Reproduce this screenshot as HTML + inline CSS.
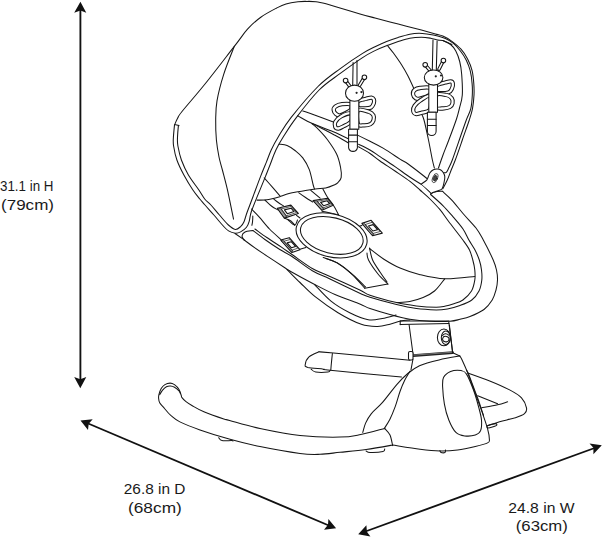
<!DOCTYPE html>
<html><head><meta charset="utf-8"><style>
html,body{margin:0;padding:0;background:#fff;width:603px;height:538px;overflow:hidden}
svg{display:block}
.t{font-family:"Liberation Sans",sans-serif;font-size:15.2px;fill:#1a1a1a}
.d{fill:none;stroke:#161616;stroke-width:1.05;stroke-linecap:round;stroke-linejoin:round}
</style></head><body>
<svg width="603" height="538" viewBox="0 0 603 538">
<!-- dimension arrows -->
<g stroke="#111" stroke-width="1.85" fill="none">
<line x1="80.4" y1="9" x2="80.4" y2="381"/>
<line x1="87" y1="423" x2="330" y2="526"/>
<line x1="364" y1="532" x2="596" y2="447.5"/>
</g>
<g fill="#111">
<path d="M80.4 1.8 L86.3 12.7 L80.4 10.5 L74.2 12.7Z"/>
<path d="M80.3 388.3 L86.3 377 L80.3 379.3 L74.2 377Z"/>
<path d="M80.5 420.4 L92.7 419.2 L88.7 423.7 L88 429.9Z"/>
<path d="M336.1 528.2 L328.4 519 L328 524.8 L324 529.7Z"/>
<path d="M358.2 534.3 L366.4 525.2 L366.9 531.7 L370.4 536.4Z"/>
<path d="M601.8 445.3 L589.5 443.4 L593.4 447.8 L593.4 454.3Z"/>
</g>
<!-- labels -->
<text class="t" x="0" y="190.7" textLength="53.5" lengthAdjust="spacingAndGlyphs">31.1 in H</text>
<text class="t" x="1" y="209.8" textLength="53" lengthAdjust="spacingAndGlyphs">(79cm)</text>
<text class="t" x="123.8" y="493.9" textLength="61.6" lengthAdjust="spacingAndGlyphs">26.8 in D</text>
<text class="t" x="128" y="512.8" textLength="53.8" lengthAdjust="spacingAndGlyphs">(68cm)</text>
<text class="t" x="508.3" y="512.6" textLength="66.3" lengthAdjust="spacingAndGlyphs">24.8 in W</text>
<text class="t" x="515.8" y="531.1" textLength="52" lengthAdjust="spacingAndGlyphs">(63cm)</text>
<!-- drawing -->
<g class="d" id="drawing">
<path d="M175.0 123.9 C175.4 123.0 176.4 120.4 177.6 118.3 C178.8 116.2 177.4 117.2 182.0 111.5 C186.6 105.8 196.3 94.8 205.0 84.0 C213.7 73.2 227.2 55.5 234.3 46.4 C241.4 37.3 243.1 34.1 247.5 29.2 C251.9 24.3 255.9 20.7 260.8 17.2 C265.7 13.7 272.5 10.2 276.7 8.0 C280.9 5.8 282.4 5.0 286.0 3.9 C289.6 2.8 294.5 2.1 298.0 1.7 C301.5 1.3 304.0 1.4 307.0 1.4 C310.0 1.4 312.8 1.3 316.0 1.7 C319.2 2.1 322.0 2.8 326.0 3.8 C330.0 4.8 334.3 6.3 340.0 8.0 C345.7 9.7 354.2 12.2 360.0 13.9 C365.8 15.6 368.6 16.3 375.0 18.0 C381.4 19.7 390.5 22.0 398.2 24.0 C405.9 26.0 415.2 28.4 421.4 30.1 C427.6 31.8 431.8 33.0 435.4 34.0 C439.0 35.0 440.1 34.9 442.8 36.1 C445.6 37.3 448.9 39.1 451.9 41.3 C454.9 43.5 458.4 46.2 461.0 49.1 C463.6 52.0 465.8 55.3 467.6 58.9 C469.5 62.5 471.1 66.5 472.1 70.6 C473.1 74.7 473.5 79.5 473.8 83.6 C474.1 87.7 474.2 90.8 474.0 95.0 C473.8 99.2 473.3 104.4 472.5 108.6 C471.7 112.8 471.0 114.8 469.3 120.0 C467.6 125.2 464.6 133.3 462.3 140.0 C460.0 146.7 457.2 155.0 455.3 160.0 C453.4 165.0 452.5 166.7 451.2 170.0 C449.9 173.3 448.7 176.9 447.3 180.0 C445.9 183.1 443.6 187.3 442.8 188.8"/>
<path d="M234.3 46.4 C232.5 51.0 226.6 65.2 223.7 74.3 C220.8 83.4 218.3 93.3 217.0 100.8 C215.7 108.3 215.8 112.9 215.7 119.4 C215.6 125.9 215.8 133.7 216.4 140.0 C217.0 146.3 218.0 152.0 219.0 157.0 C220.0 162.0 220.9 164.1 222.4 170.0 C223.9 175.9 226.2 184.1 228.0 192.3 C229.8 200.5 232.6 214.6 233.5 219.1"/>
<path d="M174.5 125.0 C174.3 127.0 173.6 133.8 173.4 137.3 C173.2 140.8 173.0 142.2 173.6 146.0 C174.2 149.8 175.2 155.2 176.9 160.0 C178.6 164.8 181.2 170.0 183.9 175.0 C186.6 180.0 190.2 186.0 192.9 190.0 C195.6 194.0 197.8 196.5 199.8 199.0 C201.8 201.5 202.7 202.3 205.0 205.0 C207.3 207.7 211.0 211.7 213.9 215.0 C216.8 218.3 220.0 222.3 222.4 225.0 C224.8 227.7 226.4 229.5 228.6 230.9 C230.8 232.3 233.3 233.0 235.3 233.2 C237.3 233.4 238.7 232.9 240.6 231.9 C242.5 230.9 245.1 229.1 246.5 227.3 C247.9 225.5 248.4 223.9 249.2 221.3 C250.0 218.8 249.8 216.2 251.2 212.0 C252.6 207.8 255.1 201.8 257.5 195.9 C259.9 190.0 263.3 181.8 265.4 176.6 C267.5 171.4 268.4 168.9 270.2 164.5 C271.9 160.1 273.7 154.7 275.9 150.0 C278.1 145.3 280.1 141.9 283.5 136.5 C286.9 131.1 290.4 125.3 296.3 117.6 C302.2 109.8 311.8 97.4 319.1 90.0 C326.4 82.6 333.1 78.8 340.3 73.4 C347.6 68.0 356.8 61.4 362.6 57.6 C368.4 53.8 371.0 52.6 375.0 50.6 C379.0 48.6 382.7 47.3 386.6 45.8 C390.5 44.3 394.3 42.9 398.2 41.6 C402.1 40.3 405.9 38.9 409.8 38.2 C413.7 37.5 417.9 37.3 421.4 37.3 C424.9 37.3 428.0 37.8 430.7 38.2 C433.4 38.7 435.7 39.6 437.7 40.0 C439.7 40.4 440.6 39.9 442.8 40.6 C445.0 41.4 448.4 42.8 450.6 44.5 C452.8 46.2 454.3 48.2 455.8 51.0 C457.3 53.8 458.7 57.6 459.7 61.5 C460.7 65.4 461.3 68.9 461.7 74.5 C462.1 80.1 462.7 89.4 462.3 95.0 C461.9 100.6 460.5 104.0 459.5 108.0 C458.5 112.0 458.3 113.7 456.5 119.0 C454.7 124.3 451.1 134.0 448.8 140.0 C446.6 146.0 444.7 150.3 443.0 155.0 C441.3 159.7 439.2 165.8 438.5 168.0"/>
<path d="M178.4 125.6 C178.2 127.5 177.6 133.9 177.5 137.3 C177.4 140.7 177.2 142.2 177.9 146.0 C178.6 149.8 179.7 155.2 181.4 160.0 C183.2 164.8 185.5 170.0 188.4 175.0 C191.3 180.0 196.2 186.0 198.9 190.0 C201.6 194.0 202.7 196.5 204.7 199.0 C206.7 201.5 208.4 202.3 210.9 205.0 C213.4 207.7 216.5 211.7 219.4 215.0 C222.3 218.3 225.8 222.6 228.4 225.0 C231.1 227.4 233.3 229.1 235.3 229.4 C237.3 229.7 239.2 227.8 240.6 226.6 C242.0 225.4 242.8 224.4 243.9 222.0 C245.0 219.6 245.6 216.3 247.2 212.0 C248.8 207.7 251.1 201.8 253.3 195.9 C255.5 190.0 258.3 182.2 260.5 176.6 C262.7 171.0 264.6 166.5 266.4 162.1 C268.2 157.7 269.2 154.3 271.2 150.0 C273.2 145.7 275.2 141.9 278.5 136.5 C281.8 131.1 284.4 125.9 291.0 117.6 C297.6 109.3 309.8 94.7 318.0 86.5 C326.2 78.3 332.9 74.1 340.3 68.6 C347.7 63.1 356.8 57.0 362.6 53.4 C368.4 49.8 371.0 48.8 375.0 46.8 C379.0 44.8 382.7 43.1 386.6 41.5 C390.5 39.9 394.3 38.6 398.2 37.4 C402.1 36.2 406.3 34.9 409.8 34.2 C413.3 33.5 416.0 33.3 419.1 33.3 C422.2 33.3 425.3 33.8 428.4 34.2 C431.5 34.6 434.9 35.2 437.7 35.9 C440.5 36.6 442.8 37.3 445.4 38.5 C448.0 39.7 450.7 41.1 453.2 43.2 C455.7 45.3 458.2 48.2 460.4 51.0 C462.6 53.8 464.7 56.9 466.3 60.2 C467.9 63.5 469.2 66.7 470.2 70.6 C471.2 74.5 471.8 79.5 472.1 83.6 C472.5 87.7 472.5 90.8 472.3 95.0 C472.1 99.2 471.8 104.4 470.8 108.6 C469.8 112.8 468.2 114.8 466.3 120.0 C464.4 125.2 461.6 133.3 459.3 140.0 C457.0 146.7 454.1 155.2 452.3 160.0 C450.5 164.8 449.5 166.4 448.5 168.5 C447.5 170.6 447.2 171.6 446.3 172.3 C445.4 173.0 443.9 172.6 443.4 172.7"/>
<path d="M174.5 124.5 L179.0 125.6"/>
<path d="M442.8 40.6 L451.9 44.5"/>
<path d="M387.2 45.2 C388.3 46.6 391.2 50.0 393.6 53.3 C396.0 56.6 399.3 61.2 401.7 65.0 C404.1 68.8 406.0 72.1 408.0 76.0 C410.0 79.9 412.8 86.2 413.7 88.2"/>
<path d="M421.5 114.0 C421.9 115.0 422.8 115.7 424.0 120.0 C425.2 124.3 427.1 133.3 428.5 140.0 C429.9 146.7 431.4 155.3 432.4 160.0 C433.4 164.7 434.1 166.7 434.4 168.0"/>
<path d="M353.1 62.5 L352.7 86.0"/>
<path d="M357.0 60.5 L357.0 85.0"/>
<path d="M433.0 40.0 L432.3 70.0"/>
<path d="M437.1 41.1 L436.3 70.0"/>
<path d="M302.8 111.0 C304.8 111.7 309.3 113.1 314.5 115.0 C319.7 116.9 330.8 121.0 334.0 122.2"/>
<path d="M357.5 135.1 C359.6 136.1 365.7 139.1 370.0 141.3 C374.3 143.5 378.5 145.4 383.5 148.4 C388.5 151.4 395.8 156.4 400.0 159.1 C404.2 161.8 404.0 161.1 408.5 164.3 C413.0 167.5 423.9 176.1 427.0 178.5"/>
<path d="M297.6 115.7 C300.1 117.0 306.4 120.9 312.4 123.6 C318.3 126.3 327.0 129.0 333.3 131.7 C339.6 134.3 347.2 138.2 350.0 139.5"/>
<path d="M312.4 123.6 C314.0 124.4 318.2 126.5 322.0 128.5 C325.8 130.4 330.3 132.8 335.0 135.3 C339.7 137.9 347.5 142.4 350.0 143.8"/>
<path d="M358.6 144.3 C360.5 145.2 366.4 147.9 370.0 150.0 C373.6 152.1 375.8 153.8 380.0 156.6 C384.2 159.4 390.0 163.1 395.0 166.6 C400.0 170.1 405.6 174.3 410.0 177.3 C414.4 180.3 419.8 183.3 421.7 184.5"/>
<path d="M358.6 146.8 C360.5 147.9 366.4 151.1 370.0 153.5 C373.6 155.9 375.8 158.1 380.0 161.0 C384.2 163.9 390.0 167.6 395.0 171.0 C400.0 174.4 405.8 178.2 410.0 181.4 C414.2 184.6 416.7 187.1 420.0 190.0 C423.3 192.9 426.7 195.7 430.0 199.0 C433.3 202.3 436.9 206.0 440.0 209.7 C443.1 213.4 444.7 216.2 448.5 221.3 C452.3 226.4 459.4 235.2 462.9 240.0 C466.4 244.8 467.9 246.7 469.5 250.0 C471.1 253.3 471.9 256.7 472.8 260.0 C473.7 263.3 474.5 266.7 474.8 270.0 C475.1 273.3 475.4 276.5 474.8 280.0 C474.2 283.5 473.5 287.7 471.5 291.0 C469.5 294.3 466.0 297.8 462.9 300.0 C459.8 302.2 455.9 303.0 453.0 304.0 C450.1 305.0 448.4 305.5 445.6 306.0 C442.8 306.5 441.2 307.2 436.3 307.2 C431.4 307.2 423.0 306.7 416.4 305.9 C409.8 305.1 404.2 304.4 396.5 302.6 C388.8 300.8 376.1 297.4 370.0 295.3 C363.9 293.2 366.5 293.0 359.8 289.9 C353.1 286.8 337.9 280.1 330.0 276.5 C322.1 272.9 318.6 272.2 312.3 268.5 C306.0 264.8 297.1 258.0 292.0 254.5 C286.9 251.0 286.0 250.2 281.8 247.4 C277.6 244.6 271.3 240.6 266.8 237.5 C262.3 234.4 256.9 230.4 254.9 229.0"/>
<path d="M430.6 194.5 C432.7 196.3 439.0 201.7 442.9 205.6 C446.8 209.5 450.6 214.0 454.0 217.9 C457.4 221.8 460.5 225.3 463.0 229.0 C465.5 232.7 466.9 236.5 468.9 240.0 C470.9 243.5 473.3 246.7 475.0 250.0 C476.7 253.3 478.2 256.7 479.3 260.0 C480.4 263.3 481.1 266.7 481.5 270.0 C481.9 273.3 482.2 276.5 481.8 280.0 C481.4 283.5 480.7 287.7 479.0 291.0 C477.3 294.3 475.0 297.6 471.8 300.0 C468.6 302.4 464.1 304.0 460.0 305.5 C455.9 307.0 451.3 308.2 447.4 308.9 C443.4 309.6 441.5 309.9 436.3 309.9 C431.1 309.8 423.0 309.5 416.4 308.6 C409.8 307.7 404.2 306.5 396.5 304.6 C388.8 302.7 376.1 299.2 370.0 297.3 C363.9 295.4 366.5 296.2 359.8 293.2 C353.1 290.1 337.9 282.8 330.0 279.0 C322.1 275.2 318.6 274.4 312.3 270.7 C306.0 266.9 297.4 260.0 292.0 256.5 C286.6 253.0 284.3 252.3 279.8 249.5 C275.3 246.7 269.4 242.7 264.9 239.5 C260.4 236.3 254.9 232.0 252.9 230.5"/>
<path d="M421.7 184.5 C422.4 185.1 424.4 186.8 426.0 188.3 C427.6 189.8 430.3 192.7 431.2 193.6"/>
<path d="M430.6 194.0 C431.4 193.6 433.2 192.2 435.1 191.7 C437.1 191.2 441.1 191.3 442.3 191.2"/>
<path d="M442.3 191.2 C443.9 192.7 448.4 196.4 451.8 200.1 C455.2 203.8 459.0 208.8 463.0 213.5 C467.0 218.2 472.6 223.6 476.0 228.0 C479.4 232.4 480.4 234.7 483.3 240.0 C486.2 245.3 491.0 255.0 493.2 260.0 C495.4 265.0 495.8 266.7 496.5 270.0 C497.2 273.3 497.6 276.7 497.5 280.0 C497.4 283.3 496.9 286.7 496.0 290.0 C495.1 293.3 494.2 296.8 492.2 300.0 C490.2 303.2 487.7 306.8 484.0 309.5 C480.3 312.2 474.0 314.9 470.0 316.5 C466.0 318.1 463.3 318.5 460.0 319.3 C456.7 320.1 455.1 320.9 450.0 321.2 C444.9 321.5 436.4 321.5 429.7 321.2 C423.0 320.9 416.4 320.3 409.8 319.2 C403.2 318.1 396.5 316.3 389.9 314.5 C383.3 312.7 375.0 310.2 370.0 308.5 C365.0 306.8 365.6 306.3 359.8 304.0 C354.0 301.7 342.9 298.0 335.0 294.5 C327.1 291.0 319.7 287.0 312.3 283.2 C304.9 279.4 295.3 274.1 290.7 271.5 C286.1 268.9 288.3 270.1 284.8 267.8 C281.3 265.5 274.8 261.2 269.8 257.9 C264.8 254.6 259.2 250.9 254.9 247.9 C250.6 244.9 245.8 241.2 244.0 239.9"/>
<path d="M396.0 315.0 C393.7 315.6 386.8 317.7 382.2 318.5 C377.6 319.3 373.6 320.7 368.2 319.7 C362.8 318.7 355.9 315.8 349.7 312.7 C343.5 309.6 336.8 305.8 331.0 301.1 C325.2 296.5 317.5 287.5 314.8 284.8"/>
<path d="M409.8 319.9 C408.3 320.1 404.0 320.3 400.7 321.0 C397.4 321.7 393.9 323.3 390.0 324.2 C386.1 325.1 382.3 326.4 377.5 326.4 C372.7 326.4 367.9 326.6 361.3 324.3 C354.7 322.0 345.8 317.4 338.0 312.7 C330.2 308.0 321.1 301.4 314.8 296.4 C308.5 291.4 304.6 286.9 300.0 282.5 C295.4 278.1 289.2 271.8 287.0 269.7"/>
<path d="M235.0 233.5 L245.0 240.4"/>
<path d="M252.9 230.5 C251.6 230.8 246.8 231.1 245.0 232.0 C243.2 232.9 242.2 234.7 242.0 236.0 C241.8 237.3 243.7 239.2 244.0 239.9"/>
<path d="M252.8 216.0 C252.8 217.0 252.7 220.4 252.5 222.0 C252.3 223.6 252.0 224.8 251.9 225.3"/>
<path d="M369.5 248.5 C371.9 250.3 378.8 255.9 383.9 259.2 C389.0 262.4 394.1 265.5 400.0 268.0 C405.9 270.5 411.9 272.6 419.3 274.4 C426.8 276.2 435.4 278.4 444.7 278.8 C453.9 279.2 469.8 276.9 474.8 276.5"/>
<path d="M444.7 278.8 C443.0 280.8 438.1 287.9 434.5 291.0 C430.9 294.1 427.2 295.8 423.1 297.5 C419.0 299.2 414.2 300.6 409.8 301.5 C405.4 302.4 398.7 302.4 396.5 302.6"/>
<path d="M311.9 123.5 C313.0 124.5 315.8 126.6 318.4 129.3 C321.0 132.0 324.5 135.6 327.5 139.7 C330.5 143.8 334.4 149.4 336.6 154.0 C338.8 158.6 339.7 163.1 340.5 167.0 C341.3 170.9 341.6 174.8 341.2 177.4 C340.8 180.0 339.1 181.3 337.9 182.6 C336.7 183.9 336.0 184.1 334.0 185.0 C332.0 185.9 328.8 187.3 325.7 188.0 C322.6 188.7 319.0 188.4 315.4 188.9 C311.8 189.4 307.7 190.2 304.3 190.8 C300.9 191.4 297.6 191.8 295.0 192.2 C292.4 192.6 291.6 192.8 289.0 193.5 C286.4 194.2 282.3 195.8 279.7 196.7 C277.1 197.5 275.7 198.0 273.2 198.6 C270.7 199.2 267.6 199.8 264.9 200.0 C262.2 200.2 258.3 200.1 257.0 200.1"/>
<path d="M279.3 144.2 C280.6 144.4 284.5 144.4 287.1 145.5 C289.7 146.6 292.4 148.4 295.0 150.5 C297.6 152.6 300.4 154.7 302.8 157.9 C305.2 161.1 307.6 165.1 309.3 169.6 C311.0 174.1 312.3 181.8 313.2 185.0 C314.1 188.2 314.3 188.3 314.5 189.0"/>
<path d="M264.2 177.8 C265.6 179.4 270.0 184.4 272.6 187.4 C275.2 190.4 278.7 194.5 279.9 195.9"/>
<path d="M264.9 200.0 C266.0 201.0 269.3 204.4 271.4 206.0 C273.5 207.6 276.4 209.1 277.4 209.7"/>
<path d="M273.2 198.6 C274.0 199.2 276.2 201.1 277.9 202.3 C279.6 203.5 282.6 205.4 283.5 206.0"/>
<path d="M284.4 218.1 C285.5 218.6 289.2 219.7 290.9 220.9 C292.6 222.1 294.1 224.4 294.7 225.1"/>
<path d="M296.5 215.3 L300.0 218.0"/>
<path d="M298.7 192.7 C299.8 193.5 302.9 195.8 305.2 197.3 C307.5 198.9 311.4 201.2 312.7 202.0"/>
<path d="M310.8 190.3 L320.1 198.2"/>
<path d="M322.9 188.9 C323.7 190.3 325.8 194.7 327.5 197.3 C329.2 199.9 331.2 201.8 333.1 204.7 C335.0 207.6 337.8 213.3 338.7 215.0"/>
<path d="M322.0 211.2 C323.4 211.5 327.5 212.5 330.3 213.1 C333.1 213.7 337.3 214.7 338.7 215.0"/>
<path d="M288.2 220.0 C289.3 220.8 293.1 225.1 294.7 225.1 C296.2 225.1 297.0 220.8 297.5 220.0"/>
<path d="M251.5 209.0 C252.8 210.4 256.3 213.9 259.3 217.2 C262.3 220.5 265.9 225.3 269.5 229.0 C273.1 232.7 279.1 237.8 281.0 239.5"/>
<path d="M299.9 249.2 L305.9 247.4"/>
<path d="M358.3 226.5 L361.9 225.4"/>
<path d="M323.2 257.6 C325.5 258.5 332.5 260.3 337.1 262.9 C341.8 265.5 346.5 269.1 351.1 273.3 C355.7 277.5 362.4 285.7 364.7 288.2"/>
<path d="M326.0 258.5 C328.2 259.4 334.5 261.2 339.0 264.0 C343.5 266.8 348.6 271.2 353.0 275.0 C357.4 278.8 363.4 285.0 365.5 287.0"/>
<path d="M364.7 288.2 L387.9 284.1"/>
<path d="M367.0 253.0 C367.2 254.2 366.7 256.5 368.5 260.0 C370.3 263.5 374.8 270.0 378.0 274.0 C381.2 278.0 386.2 282.4 387.9 284.1"/>
<path d="M369.5 248.0 C370.0 250.0 370.9 256.0 372.6 260.0 C374.4 264.0 377.6 268.3 380.0 272.0 C382.4 275.7 385.8 280.3 387.0 282.0"/>
<path d="M409.1 324.8 L413.0 354.0"/>
<path d="M448.8 322.2 L452.7 352.7"/>
<path d="M400.2 321.0 L449.0 321.0"/>
<path d="M400.2 324.6 L449.0 323.6"/>
<path d="M400.2 321.0 L400.2 324.6"/>
<path d="M413.0 359.0 L411.0 369.6"/>
<path d="M452.7 352.7 L459.8 356.0"/>
<path d="M362.8 432.4 C363.3 430.8 364.2 426.2 365.6 423.1 C367.0 420.0 368.4 417.2 371.2 413.8 C374.0 410.4 378.0 407.6 382.3 402.7 C386.6 397.8 392.9 389.0 397.2 384.1 C401.4 379.2 404.1 376.6 407.8 373.5 C411.5 370.4 414.3 368.0 419.5 365.7 C424.7 363.4 432.3 361.5 439.0 359.9 C445.7 358.3 456.3 356.6 459.8 356.0"/>
<path d="M384.2 428.7 C385.1 427.1 387.9 423.1 389.8 419.4 C391.7 415.7 393.6 411.0 395.3 406.4 C397.0 401.8 398.4 395.9 400.0 391.5 C401.6 387.1 403.0 383.7 404.7 380.3 C406.4 376.9 409.3 372.6 410.2 371.0"/>
<path d="M459.8 356.0 C460.2 356.7 460.7 357.0 462.1 360.0 C463.5 363.0 466.0 368.5 468.2 374.1 C470.4 379.7 472.9 387.0 475.3 393.5 C477.7 400.0 480.3 407.0 482.4 412.9 C484.4 418.8 486.4 424.4 487.6 428.8 C488.8 433.2 489.4 437.0 489.4 439.4 C489.4 441.8 490.0 441.7 487.6 442.9 C485.2 444.1 480.3 445.3 475.3 446.5 C470.3 447.7 463.5 449.3 457.6 450.0 C451.7 450.7 446.3 451.0 440.0 450.9 C433.7 450.8 427.9 450.2 420.0 449.2 C412.1 448.2 397.2 445.7 392.6 445.0"/>
<path d="M466.5 370.0 C466.9 370.8 467.9 372.6 468.9 375.0 C469.9 377.4 471.1 380.7 472.6 384.7 C474.1 388.7 476.4 394.7 477.9 398.8 C479.4 402.9 480.6 406.6 481.5 409.4 C482.4 412.2 483.2 414.5 483.5 415.5"/>
<path d="M443.5 377.6 C444.8 375.1 447.7 372.7 450.6 371.5 C453.6 370.3 458.6 370.2 461.2 370.6 C463.8 371.0 464.4 370.9 466.5 374.1 C468.6 377.3 471.4 384.4 473.5 390.0 C475.6 395.6 477.5 402.6 478.8 407.6 C480.1 412.6 481.2 416.2 481.5 420.0 C481.8 423.8 481.6 428.1 480.6 430.6 C479.6 433.1 478.0 434.1 475.3 435.0 C472.6 435.9 467.9 436.3 464.7 435.9 C461.5 435.5 458.5 435.0 455.9 432.4 C453.2 429.8 450.7 424.7 448.8 420.0 C446.9 415.3 445.4 409.7 444.4 404.1 C443.4 398.5 442.8 390.9 442.6 386.5 C442.5 382.1 442.2 380.1 443.5 377.6Z"/>
<path d="M319.0 351.8 C321.4 352.0 318.3 351.7 333.5 353.1 C348.7 354.5 397.2 359.0 410.0 360.2"/>
<path d="M319.0 351.8 C317.3 352.6 311.3 354.8 309.0 356.9 C306.7 359.0 305.4 362.9 305.2 364.7 C305.0 366.4 304.8 366.6 307.8 367.4 C310.9 368.1 319.8 368.7 323.5 369.2 C327.2 369.7 317.2 369.0 330.2 370.3 C343.2 371.6 389.6 375.9 401.5 377.0"/>
<path d="M332.4 353.5 C332.2 354.9 331.8 359.2 331.5 362.0 C331.2 364.8 330.9 368.7 330.8 370.0"/>
<path d="M311.2 369.2 C311.9 369.7 312.9 371.5 315.7 372.0 C318.5 372.5 325.5 372.3 327.9 372.0 C330.3 371.7 329.8 370.6 330.2 370.3"/>
<path d="M467.8 372.9 C471.4 374.2 482.7 378.1 489.7 380.9 C496.7 383.7 504.3 387.1 509.6 389.9 C514.9 392.7 518.7 394.8 521.5 397.8 C524.3 400.8 526.0 405.2 526.5 407.8 C527.0 410.4 526.3 412.1 524.5 413.7 C522.7 415.3 519.6 416.4 515.5 417.7 C511.4 419.0 504.2 420.4 499.6 421.7 C495.0 423.0 489.7 425.0 487.7 425.7"/>
<path d="M477.7 395.8 L497.6 403.8"/>
<path d="M481.7 407.8 C484.4 407.3 493.3 405.8 497.6 404.8 C501.9 403.8 505.9 402.3 507.6 401.8"/>
<path d="M487.6 425.6 C488.8 424.9 494.2 423.6 495.6 423.6 C497.0 423.6 497.4 424.9 496.2 425.6 C495.0 426.3 489.7 427.9 488.3 427.9 C486.9 427.9 486.4 426.3 487.6 425.6Z"/>
<path d="M384.7 428.4 C380.7 429.4 368.2 433.1 360.8 434.5 C353.4 435.9 350.1 436.9 340.0 437.1 C329.9 437.3 313.3 436.9 300.0 435.5 C286.7 434.1 271.7 431.0 260.0 428.5 C248.3 426.0 235.6 422.0 229.6 420.4 C223.6 418.8 228.1 420.4 223.8 419.0 C219.5 417.6 209.2 414.1 203.9 411.8 C198.6 409.6 194.9 407.2 191.9 405.5 C188.9 403.8 187.7 402.9 186.0 401.6 C184.3 400.3 182.8 398.7 182.0 397.6 C181.2 396.6 181.7 396.7 181.2 395.3 C180.7 393.9 180.1 391.2 179.0 389.4 C177.9 387.6 176.0 385.7 174.5 384.6 C173.0 383.6 171.7 383.1 170.1 383.1 C168.5 383.1 166.4 383.7 164.9 384.6 C163.4 385.5 162.2 386.9 161.2 388.6 C160.2 390.3 159.3 393.0 158.9 394.6 C158.5 396.2 158.5 396.9 158.6 398.3 C158.7 399.7 158.9 401.3 159.7 402.8 C160.5 404.3 161.6 405.1 163.4 407.2 C165.2 409.3 168.1 412.9 170.8 415.4 C173.6 417.8 175.0 419.5 179.9 421.9 C184.8 424.3 191.7 427.0 200.0 429.9 C208.3 432.8 220.0 436.5 230.0 439.3 C240.0 442.1 248.3 444.2 260.0 446.6 C271.7 449.0 290.0 452.2 300.0 453.5 C310.0 454.8 313.3 454.5 320.0 454.3 C326.7 454.1 332.3 453.1 340.0 452.3 C347.7 451.5 357.3 450.7 366.1 449.5 C374.9 448.3 388.2 445.8 392.6 445.0"/>
<path d="M384.7 428.4 C385.6 429.5 388.7 432.1 390.0 435.0 C391.3 437.9 392.2 443.8 392.7 445.6"/>
<path d="M159.7 394.6 C160.2 393.9 161.5 391.4 162.6 390.1 C163.7 388.8 165.1 387.5 166.4 386.8 C167.7 386.1 169.1 385.9 170.4 386.0 C171.8 386.1 173.1 386.4 174.5 387.2 C175.9 388.0 178.0 389.8 179.0 390.9 C180.0 392.0 180.2 393.3 180.5 393.8"/>
<path d="M218.7 437.7 C219.2 438.2 219.8 440.1 222.0 440.6 C224.2 441.1 229.8 440.5 231.6 440.6 C233.4 440.7 232.8 440.9 233.0 441.0"/>
<path d="M366.1 450.9 C366.8 451.2 367.2 452.4 370.0 452.5 C372.8 452.6 380.6 452.1 383.0 451.5 C385.4 450.9 384.4 449.4 384.7 449.0"/>
<path d="M439.9 450.5 C440.1 450.8 440.1 452.2 441.0 452.5 C441.9 452.8 444.2 452.9 445.0 452.5 C445.8 452.1 445.4 450.4 445.5 450.0"/>
<path d="M351.0 104.5 C349.5 103.6 344.6 103.9 342.0 104.2 C339.4 104.5 336.9 105.5 335.5 106.5 C334.1 107.5 333.6 108.8 333.7 110.0 C333.8 111.2 334.9 113.1 336.0 114.0 C337.1 114.9 338.3 115.7 340.0 115.5 C341.7 115.3 344.2 114.0 346.0 113.0 C347.8 112.0 350.2 110.9 351.0 109.5 C351.8 108.1 352.5 105.4 351.0 104.5Z" stroke-width="4.3" fill="#fff"/><path d="M351.0 104.5 C349.5 103.6 344.6 103.9 342.0 104.2 C339.4 104.5 336.9 105.5 335.5 106.5 C334.1 107.5 333.6 108.8 333.7 110.0 C333.8 111.2 334.9 113.1 336.0 114.0 C337.1 114.9 338.3 115.7 340.0 115.5 C341.7 115.3 344.2 114.0 346.0 113.0 C347.8 112.0 350.2 110.9 351.0 109.5 C351.8 108.1 352.5 105.4 351.0 104.5Z" stroke-width="2.3" stroke="#fff"/><path d="M351.0 113.5 C349.3 112.7 343.6 115.0 341.0 116.4 C338.4 117.8 336.2 120.2 335.3 122.0 C334.4 123.8 334.8 125.9 335.3 127.0 C335.8 128.1 337.2 128.6 338.5 128.5 C339.8 128.4 340.9 127.7 343.0 126.5 C345.1 125.3 349.7 123.7 351.0 121.5 C352.3 119.3 352.7 114.3 351.0 113.5Z" stroke-width="4.3" fill="#fff"/><path d="M351.0 113.5 C349.3 112.7 343.6 115.0 341.0 116.4 C338.4 117.8 336.2 120.2 335.3 122.0 C334.4 123.8 334.8 125.9 335.3 127.0 C335.8 128.1 337.2 128.6 338.5 128.5 C339.8 128.4 340.9 127.7 343.0 126.5 C345.1 125.3 349.7 123.7 351.0 121.5 C352.3 119.3 352.7 114.3 351.0 113.5Z" stroke-width="2.3" stroke="#fff"/><path d="M358.0 101.2 C359.3 99.8 363.8 99.4 366.0 98.8 C368.2 98.2 370.2 97.5 371.5 97.6 C372.8 97.7 373.4 98.5 373.8 99.4 C374.2 100.4 374.3 102.0 373.8 103.3 C373.3 104.6 372.5 106.7 371.0 107.5 C369.5 108.3 367.2 108.3 365.0 108.3 C362.8 108.3 359.2 108.7 358.0 107.5 C356.8 106.3 356.7 102.7 358.0 101.2Z" stroke-width="4.3" fill="#fff"/><path d="M358.0 101.2 C359.3 99.8 363.8 99.4 366.0 98.8 C368.2 98.2 370.2 97.5 371.5 97.6 C372.8 97.7 373.4 98.5 373.8 99.4 C374.2 100.4 374.3 102.0 373.8 103.3 C373.3 104.6 372.5 106.7 371.0 107.5 C369.5 108.3 367.2 108.3 365.0 108.3 C362.8 108.3 359.2 108.7 358.0 107.5 C356.8 106.3 356.7 102.7 358.0 101.2Z" stroke-width="2.3" stroke="#fff"/><path d="M358.0 110.4 C359.8 108.3 366.4 111.0 369.0 111.8 C371.6 112.6 372.6 113.9 373.4 115.3 C374.1 116.7 374.0 118.8 373.5 120.3 C373.0 121.8 371.9 123.4 370.4 124.2 C368.9 125.0 366.4 125.3 364.3 125.3 C362.2 125.3 359.1 126.7 358.0 124.2 C356.9 121.7 356.2 112.5 358.0 110.4Z" stroke-width="4.3" fill="#fff"/><path d="M358.0 110.4 C359.8 108.3 366.4 111.0 369.0 111.8 C371.6 112.6 372.6 113.9 373.4 115.3 C374.1 116.7 374.0 118.8 373.5 120.3 C373.0 121.8 371.9 123.4 370.4 124.2 C368.9 125.0 366.4 125.3 364.3 125.3 C362.2 125.3 359.1 126.7 358.0 124.2 C356.9 121.7 356.2 112.5 358.0 110.4Z" stroke-width="2.3" stroke="#fff"/><path d="M349.9 100.0 L349.9 129.2 L358.8 129.2 L358.8 100.0 Z" fill="#fff"/><path d="M348.6 129.2 L348.6 147.8 A4.5 4.5 0 0 0 357.4 147.8 L357.4 129.2 Z" fill="#fff"/><line x1="348.6" y1="135.1" x2="357.4" y2="135.1"/><line x1="348.6" y1="141.7" x2="357.4" y2="141.7"/><line x1="350.6" y1="87.3" x2="345.6" y2="80.6" stroke-width="3.6"/><line x1="350.6" y1="87.3" x2="345.6" y2="80.6" stroke-width="1.5" stroke="#fff"/><circle cx="345.6" cy="80.6" r="2.3" fill="#fff"/><line x1="359.5" y1="85.4" x2="364.4" y2="77.3" stroke-width="3.6"/><line x1="359.5" y1="85.4" x2="364.4" y2="77.3" stroke-width="1.5" stroke="#fff"/><circle cx="364.4" cy="77.3" r="2.3" fill="#fff"/><ellipse cx="354.5" cy="93.2" rx="9.0" ry="8.1" fill="#fff"/><circle cx="356.6" cy="92.8" r="1.1" fill="#222" stroke="none"/><circle cx="361.4" cy="92.1" r="1.1" fill="#222" stroke="none"/><path d="M430.0 88.0 C428.3 86.9 422.6 87.7 420.0 88.0 C417.4 88.3 415.8 89.0 414.6 90.0 C413.4 91.0 412.8 92.8 413.0 94.2 C413.2 95.6 414.6 97.6 415.8 98.3 C417.0 99.0 417.6 99.1 420.0 98.5 C422.4 97.9 428.3 96.2 430.0 94.5 C431.7 92.8 431.7 89.1 430.0 88.0Z" stroke-width="4.3" fill="#fff"/><path d="M430.0 88.0 C428.3 86.9 422.6 87.7 420.0 88.0 C417.4 88.3 415.8 89.0 414.6 90.0 C413.4 91.0 412.8 92.8 413.0 94.2 C413.2 95.6 414.6 97.6 415.8 98.3 C417.0 99.0 417.6 99.1 420.0 98.5 C422.4 97.9 428.3 96.2 430.0 94.5 C431.7 92.8 431.7 89.1 430.0 88.0Z" stroke-width="2.3" stroke="#fff"/><path d="M430.0 96.2 C428.4 94.7 423.0 98.8 420.4 100.4 C417.8 102.0 415.8 104.1 414.6 105.8 C413.4 107.5 413.0 109.4 413.2 110.8 C413.4 112.2 414.5 113.7 415.8 114.0 C417.1 114.3 418.8 113.5 421.2 112.8 C423.6 112.0 428.5 112.3 430.0 109.5 C431.5 106.7 431.6 97.7 430.0 96.2Z" stroke-width="4.3" fill="#fff"/><path d="M430.0 96.2 C428.4 94.7 423.0 98.8 420.4 100.4 C417.8 102.0 415.8 104.1 414.6 105.8 C413.4 107.5 413.0 109.4 413.2 110.8 C413.4 112.2 414.5 113.7 415.8 114.0 C417.1 114.3 418.8 113.5 421.2 112.8 C423.6 112.0 428.5 112.3 430.0 109.5 C431.5 106.7 431.6 97.7 430.0 96.2Z" stroke-width="2.3" stroke="#fff"/><path d="M436.0 85.6 C437.6 83.9 442.9 83.2 445.3 82.5 C447.8 81.8 449.4 81.2 450.7 81.3 C451.9 81.4 452.6 82.1 452.8 83.3 C453.0 84.5 452.8 86.9 452.0 88.4 C451.2 89.9 451.0 91.8 448.3 92.5 C445.6 93.2 438.1 93.7 436.0 92.5 C433.9 91.3 434.4 87.3 436.0 85.6Z" stroke-width="4.3" fill="#fff"/><path d="M436.0 85.6 C437.6 83.9 442.9 83.2 445.3 82.5 C447.8 81.8 449.4 81.2 450.7 81.3 C451.9 81.4 452.6 82.1 452.8 83.3 C453.0 84.5 452.8 86.9 452.0 88.4 C451.2 89.9 451.0 91.8 448.3 92.5 C445.6 93.2 438.1 93.7 436.0 92.5 C433.9 91.3 434.4 87.3 436.0 85.6Z" stroke-width="2.3" stroke="#fff"/><path d="M436.0 95.0 C437.8 92.9 443.9 94.5 446.5 95.0 C449.1 95.5 450.8 96.9 451.8 98.3 C452.8 99.7 452.8 101.8 452.5 103.3 C452.2 104.8 451.2 106.2 449.8 107.0 C448.4 107.8 446.3 108.2 444.0 108.3 C441.7 108.4 437.3 109.7 436.0 107.5 C434.7 105.3 434.2 97.1 436.0 95.0Z" stroke-width="4.3" fill="#fff"/><path d="M436.0 95.0 C437.8 92.9 443.9 94.5 446.5 95.0 C449.1 95.5 450.8 96.9 451.8 98.3 C452.8 99.7 452.8 101.8 452.5 103.3 C452.2 104.8 451.2 106.2 449.8 107.0 C448.4 107.8 446.3 108.2 444.0 108.3 C441.7 108.4 437.3 109.7 436.0 107.5 C434.7 105.3 434.2 97.1 436.0 95.0Z" stroke-width="2.3" stroke="#fff"/><path d="M428.8 84.0 L428.8 112.2 L437.5 112.2 L437.5 84.0 Z" fill="#fff"/><path d="M427.4 112.2 L427.4 131.2 A4.3 4.3 0 0 0 436.1 131.2 L436.1 112.2 Z" fill="#fff"/><line x1="427.4" y1="119.2" x2="436.1" y2="119.2"/><line x1="427.4" y1="125.5" x2="436.1" y2="125.5"/><line x1="430.3" y1="70.8" x2="425.2" y2="64.8" stroke-width="3.6"/><line x1="430.3" y1="70.8" x2="425.2" y2="64.8" stroke-width="1.5" stroke="#fff"/><circle cx="425.2" cy="64.8" r="2.3" fill="#fff"/><line x1="439.0" y1="69.2" x2="443.4" y2="60.5" stroke-width="3.6"/><line x1="439.0" y1="69.2" x2="443.4" y2="60.5" stroke-width="1.5" stroke="#fff"/><circle cx="443.4" cy="60.5" r="2.3" fill="#fff"/><ellipse cx="433.6" cy="77.5" rx="9.3" ry="7.6" fill="#fff"/><circle cx="435.8" cy="76.3" r="1.1" fill="#222" stroke="none"/><circle cx="441.0" cy="75.5" r="1.1" fill="#222" stroke="none"/><path fill="#fff" d="M421.3 184.1 C422.2 183.4 425.6 181.2 426.7 180.1 C427.8 179.0 427.4 178.6 428.0 177.4 C428.6 176.2 429.1 174.0 430.0 172.7 C430.9 171.4 432.2 170.3 433.4 169.7 C434.6 169.1 436.2 168.9 437.4 169.0 C438.6 169.1 439.8 169.4 440.8 170.0 C441.8 170.6 442.7 171.6 443.4 172.7 C444.1 173.8 444.7 175.1 444.8 176.7 C444.9 178.3 444.6 180.1 444.1 182.1 C443.7 184.1 443.1 187.4 442.1 188.8 C441.1 190.2 439.8 190.1 438.1 190.8 C436.4 191.5 433.1 192.5 432.1 192.8"/><ellipse cx="435.1" cy="178.1" rx="2.4" ry="4.8" transform="rotate(22 435.1 178.1)" fill="#fff" stroke-width="0.7"/><ellipse cx="435.1" cy="178.1" rx="1.7" ry="2.9" transform="rotate(22 435.1 178.1)" fill="#444" stroke-width="0.6"/><ellipse cx="331.6" cy="235.4" rx="36.2" ry="21.4" transform="rotate(14 331.6 235.4)" fill="#fff"/><ellipse cx="331.8" cy="235.4" rx="32" ry="17.8" transform="rotate(14 331.8 235.4)"/><polygon points="277.4,208.3 290.9,205.1 298.3,213.5 284.4,218.1" fill="#fff" stroke-width="1.15"/><polygon points="278.2,208.8 280.8,208.2 287.0,216.5 284.4,217.4" fill="#9a9a9a" stroke-width="0.6"/><polygon points="281.4,208.9 291.0,206.5 296.3,212.6 286.5,215.8" stroke-width="0.7"/><polygon points="284.4,209.9 291.1,208.2 294.0,211.6 287.3,213.7" stroke-width="1.1"/><polygon points="313.1,200.6 327.5,198.2 333.1,205.2 322.0,210.3" fill="#fff" stroke-width="1.15"/><polygon points="314.1,201.1 316.8,200.6 324.0,208.6 321.8,209.6" fill="#9a9a9a" stroke-width="0.6"/><polygon points="317.4,201.3 327.3,199.4 331.5,204.6 323.3,207.9" stroke-width="0.7"/><polygon points="320.6,202.4 327.2,200.8 329.6,203.7 323.7,205.8" stroke-width="1.1"/><polygon points="280.8,240.0 289.2,237.7 299.9,249.7 292.0,252.5" fill="#fff" stroke-width="1.15"/><polygon points="281.7,240.7 283.3,240.2 293.1,251.1 291.6,251.7" fill="#9a9a9a" stroke-width="0.6"/><polygon points="284.2,241.2 290.1,239.5 297.8,248.2 292.2,250.1" stroke-width="0.7"/><polygon points="287.1,242.9 291.2,241.7 295.5,246.5 291.5,247.8" stroke-width="1.1"/><polygon points="361.9,223.4 371.1,220.3 382.3,233.1 372.6,235.7" fill="#fff" stroke-width="1.15"/><polygon points="362.8,224.0 364.6,223.5 374.1,234.4 372.2,234.9" fill="#9a9a9a" stroke-width="0.6"/><polygon points="365.4,224.5 372.0,222.3 380.1,231.5 373.2,233.4" stroke-width="0.7"/><polygon points="368.5,226.0 373.1,224.6 377.5,229.7 372.8,231.0" stroke-width="1.1"/><path d="M413 355.6 L452.7 352.6" stroke-width="2.6" stroke="#222"/><path d="M413 355.2 L452.7 352.2" stroke-width="0.8" stroke="#888"/><rect x="408.5" y="351.4" width="4.5" height="8.6" rx="1.5" fill="#fff"/><ellipse cx="443.9" cy="337.4" rx="6.5" ry="8.4" fill="#fff"/><ellipse cx="445.8" cy="337.7" rx="4.5" ry="6.7"/><path d="M442.6 335.6 C443.6 333.6 446.6 332.9 448.6 335.2"/><ellipse cx="445.8" cy="339.1" rx="3.2" ry="2.7" transform="rotate(15 445.8 339.1)"/><path d="M449.4 325 L452.6 352.7"/>
</g>
</svg>
</body></html>
